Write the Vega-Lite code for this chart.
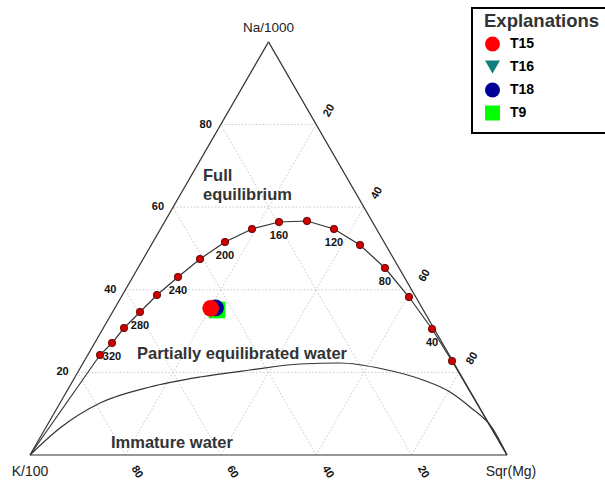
{
  "$schema": "https://vega.github.io/schema/vega-lite/v6.json",
  "width": 605,
  "height": 483,
  "autosize": {"type": "none"},
  "padding": 0,
  "background": "white",
  "config": {"view": {"stroke": null}, "font": "Liberation Sans"},
  "datasets": {
    "grid": [
      {"x": 10, "y": 17.32, "x2": 90, "y2": 17.32},
      {"x": 20, "y": 34.64, "x2": 80, "y2": 34.64},
      {"x": 30, "y": 51.96, "x2": 70, "y2": 51.96},
      {"x": 40, "y": 69.28, "x2": 60, "y2": 69.28},
      {"x": 20, "y": 0, "x2": 60, "y2": 69.28},
      {"x": 40, "y": 0, "x2": 70, "y2": 51.96},
      {"x": 60, "y": 0, "x2": 80, "y2": 34.64},
      {"x": 80, "y": 0, "x2": 90, "y2": 17.32},
      {"x": 80, "y": 0, "x2": 40, "y2": 69.28},
      {"x": 60, "y": 0, "x2": 30, "y2": 51.96},
      {"x": 40, "y": 0, "x2": 20, "y2": 34.64},
      {"x": 20, "y": 0, "x2": 10, "y2": 17.32}
    ],
    "edges": [
      {"x": 0, "y": 0, "x2": 100, "y2": 0},
      {"x": 0, "y": 0, "x2": 50, "y2": 86.6},
      {"x": 100, "y": 0, "x2": 50, "y2": 86.6}
    ],
    "immature": [
      {"o": 0, "x": 0, "y": 0},
      {"o": 1, "x": 6.29, "y": 5.66},
      {"o": 2, "x": 14.68, "y": 10.9},
      {"o": 3, "x": 25.16, "y": 14.26},
      {"o": 4, "x": 35.64, "y": 16.35},
      {"o": 5, "x": 46.12, "y": 17.82},
      {"o": 6, "x": 56.6, "y": 19.08},
      {"o": 7, "x": 64.99, "y": 19.29},
      {"o": 8, "x": 74.0, "y": 18.03},
      {"o": 9, "x": 82.39, "y": 15.72},
      {"o": 10, "x": 88.05, "y": 13.21},
      {"o": 11, "x": 92.24, "y": 10.06},
      {"o": 12, "x": 97.06, "y": 5.45},
      {"o": 13, "x": 100, "y": 0}
    ],
    "eqline": [
      {"o": 0, "x": 0, "y": 0},
      {"o": 1, "x": 14.68, "y": 20.96},
      {"o": 2, "x": 17.19, "y": 23.48},
      {"o": 3, "x": 19.71, "y": 26.62},
      {"o": 4, "x": 23.06, "y": 29.98},
      {"o": 5, "x": 26.62, "y": 33.54},
      {"o": 6, "x": 31.03, "y": 37.32},
      {"o": 7, "x": 35.64, "y": 41.09},
      {"o": 8, "x": 40.88, "y": 44.65},
      {"o": 9, "x": 46.54, "y": 47.38},
      {"o": 10, "x": 52.2, "y": 48.85},
      {"o": 11, "x": 58.07, "y": 49.06},
      {"o": 12, "x": 63.73, "y": 47.38},
      {"o": 13, "x": 69.18, "y": 44.03},
      {"o": 14, "x": 74.42, "y": 39.2},
      {"o": 15, "x": 79.45, "y": 33.12},
      {"o": 16, "x": 84.28, "y": 26.42},
      {"o": 17, "x": 88.47, "y": 19.71},
      {"o": 18, "x": 100, "y": 0}
    ],
    "temps": [
      {"t": 340, "lab": "", "x": 14.68, "y": 20.96},
      {"t": 320, "lab": "320", "x": 17.19, "y": 23.48},
      {"t": 300, "lab": "", "x": 19.71, "y": 26.62},
      {"t": 280, "lab": "280", "x": 23.06, "y": 29.98},
      {"t": 260, "lab": "", "x": 26.62, "y": 33.54},
      {"t": 240, "lab": "240", "x": 31.03, "y": 37.32},
      {"t": 220, "lab": "", "x": 35.64, "y": 41.09},
      {"t": 200, "lab": "200", "x": 40.88, "y": 44.65},
      {"t": 180, "lab": "", "x": 46.54, "y": 47.38},
      {"t": 160, "lab": "160", "x": 52.2, "y": 48.85},
      {"t": 140, "lab": "", "x": 58.07, "y": 49.06},
      {"t": 120, "lab": "120", "x": 63.73, "y": 47.38},
      {"t": 100, "lab": "", "x": 69.18, "y": 44.03},
      {"t": 80, "lab": "80", "x": 74.42, "y": 39.2},
      {"t": 60, "lab": "", "x": 79.45, "y": 33.12},
      {"t": 40, "lab": "40", "x": 84.28, "y": 26.42},
      {"t": 20, "lab": "", "x": 88.47, "y": 19.71}
    ],
    "leftTicks": [
      {"t": "20", "x": 10, "y": 17.32},
      {"t": "40", "x": 20, "y": 34.64},
      {"t": "60", "x": 30, "y": 51.96},
      {"t": "80", "x": 40, "y": 69.28}
    ],
    "rightTicks": [
      {"t": "20", "x": 60, "y": 69.28},
      {"t": "40", "x": 70, "y": 51.96},
      {"t": "60", "x": 80, "y": 34.64},
      {"t": "80", "x": 90, "y": 17.32}
    ],
    "bottomTicks": [
      {"t": "80", "x": 20, "y": 0},
      {"t": "60", "x": 40, "y": 0},
      {"t": "40", "x": 60, "y": 0},
      {"t": "20", "x": 80, "y": 0}
    ],
    "apex": [{"t": "Na/1000", "x": 50, "y": 86.6}],
    "kvert": [{"t": "K/100", "x": 0, "y": 0}],
    "mgvert": [{"t": "Sqr(Mg)", "x": 100, "y": 0}],
    "regions": [
      {"t": "Full", "x": 36.27, "y": 58.49},
      {"t": "equilibrium", "x": 36.27, "y": 54.51},
      {"t": "Partially equilibrated water", "x": 22.43, "y": 21.17},
      {"t": "Immature water", "x": 16.98, "y": 2.52}
    ],
    "samples": [
      {"s": "T9", "x": 39.2, "y": 30.4},
      {"s": "T16", "x": 38.36, "y": 30.61},
      {"s": "T18", "x": 38.89, "y": 30.82},
      {"s": "T15", "x": 37.88, "y": 30.75}
    ]
  },
  "encoding": {
    "x": {"field": "x", "type": "quantitative", "scale": {"domain": [-6.289, 120.545], "nice": false, "zero": false}, "axis": null},
    "y": {"field": "y", "type": "quantitative", "scale": {"domain": [-5.87, 95.388], "nice": false, "zero": false}, "axis": null}
  },
  "layer": [
    {
      "data": {"name": "grid"},
      "mark": {"type": "rule", "color": "#c8c8c8", "strokeWidth": 1, "strokeDash": [1.5, 2]},
      "encoding": {"x2": {"field": "x2"}, "y2": {"field": "y2"}}
    },
    {
      "data": {"name": "edges"},
      "mark": {"type": "rule", "color": "#333333", "strokeWidth": 1.2},
      "encoding": {"x2": {"field": "x2"}, "y2": {"field": "y2"}}
    },
    {
      "data": {"name": "immature"},
      "mark": {"type": "line", "color": "#333333", "strokeWidth": 1.2, "interpolate": "monotone"},
      "encoding": {"order": {"field": "o", "type": "quantitative"}}
    },
    {
      "data": {"name": "eqline"},
      "mark": {"type": "line", "color": "#333333", "strokeWidth": 1.2},
      "encoding": {"order": {"field": "o", "type": "quantitative"}}
    },
    {
      "data": {"name": "temps"},
      "mark": {"type": "point", "filled": true, "fill": "#cc0000", "stroke": "#4a0000", "strokeWidth": 0.8, "size": 55, "opacity": 1}
    },
    {
      "data": {"name": "temps"},
      "mark": {"type": "text", "fontSize": 11, "fontWeight": "bold", "color": "#111111", "align": "center", "baseline": "middle", "dy": 14},
      "encoding": {"text": {"field": "lab"}}
    },
    {
      "data": {"name": "leftTicks"},
      "mark": {"type": "text", "fontSize": 11, "fontWeight": "bold", "color": "#111111", "align": "right", "baseline": "middle", "dx": -9},
      "encoding": {"text": {"field": "t"}}
    },
    {
      "data": {"name": "rightTicks"},
      "mark": {"type": "text", "fontSize": 11, "fontWeight": "bold", "color": "#111111", "align": "center", "baseline": "middle", "angle": -60, "dx": 18.6, "dy": 4.3},
      "encoding": {"text": {"field": "t"}}
    },
    {
      "data": {"name": "bottomTicks"},
      "mark": {"type": "text", "fontSize": 11, "fontWeight": "bold", "color": "#111111", "align": "center", "baseline": "middle", "angle": 60, "dx": 20.5, "dy": -1.5},
      "encoding": {"text": {"field": "t"}}
    },
    {
      "data": {"name": "apex"},
      "mark": {"type": "text", "fontSize": 13.5, "color": "#222222", "align": "center", "baseline": "middle", "dy": -14},
      "encoding": {"text": {"field": "t"}}
    },
    {
      "data": {"name": "kvert"},
      "mark": {"type": "text", "fontSize": 14, "color": "#222222", "align": "center", "baseline": "middle", "dy": 17},
      "encoding": {"text": {"field": "t"}}
    },
    {
      "data": {"name": "mgvert"},
      "mark": {"type": "text", "fontSize": 14, "color": "#222222", "align": "center", "baseline": "middle", "dx": 4, "dy": 17},
      "encoding": {"text": {"field": "t"}}
    },
    {
      "data": {"name": "regions"},
      "mark": {"type": "text", "fontSize": 16.5, "fontWeight": "bold", "color": "#333333", "align": "left", "baseline": "middle"},
      "encoding": {"text": {"field": "t"}}
    },
    {
      "data": {"name": "samples"},
      "mark": {"type": "point", "filled": true, "opacity": 1, "size": 280, "strokeWidth": 0},
      "encoding": {
        "color": {
          "field": "s", "type": "nominal",
          "scale": {"domain": ["T15", "T16", "T18", "T9"], "range": ["#ff0000", "#0f7f7f", "#000099", "#00ff00"]},
          "legend": {
            "orient": "none", "legendX": 472, "legendY": 8, "title": "Explanations",
            "titleFontSize": 18.5, "titleFontWeight": "bold", "titleColor": "#333333",
            "labelFontSize": 14, "labelFontWeight": "bold", "labelColor": "#000000",
            "symbolSize": 225, "symbolStrokeWidth": 0, "symbolOpacity": 1,
            "strokeColor": "#000000", "fillColor": "#ffffff", "padding": 12,
            "rowPadding": 8, "titlePadding": -2, "labelOffset": 10,
            "encode": {"legend": {"update": {"strokeWidth": {"value": 2}}}, "title": {"update": {"dx": {"value": -1}, "dy": {"value": -8}}}}
          }
        },
        "shape": {
          "field": "s", "type": "nominal",
          "scale": {"domain": ["T15", "T16", "T18", "T9"], "range": ["circle", "triangle-down", "circle", "square"]},
          "legend": {
            "orient": "none", "legendX": 472, "legendY": 8, "title": "Explanations",
            "titleFontSize": 18.5, "titleFontWeight": "bold", "titleColor": "#333333",
            "labelFontSize": 14, "labelFontWeight": "bold", "labelColor": "#000000",
            "symbolSize": 225, "symbolStrokeWidth": 0, "symbolOpacity": 1,
            "strokeColor": "#000000", "fillColor": "#ffffff", "padding": 12,
            "rowPadding": 8, "titlePadding": -2, "labelOffset": 10,
            "encode": {"legend": {"update": {"strokeWidth": {"value": 2}}}, "title": {"update": {"dx": {"value": -1}, "dy": {"value": -8}}}}
          }
        }
      }
    }
  ]
}
